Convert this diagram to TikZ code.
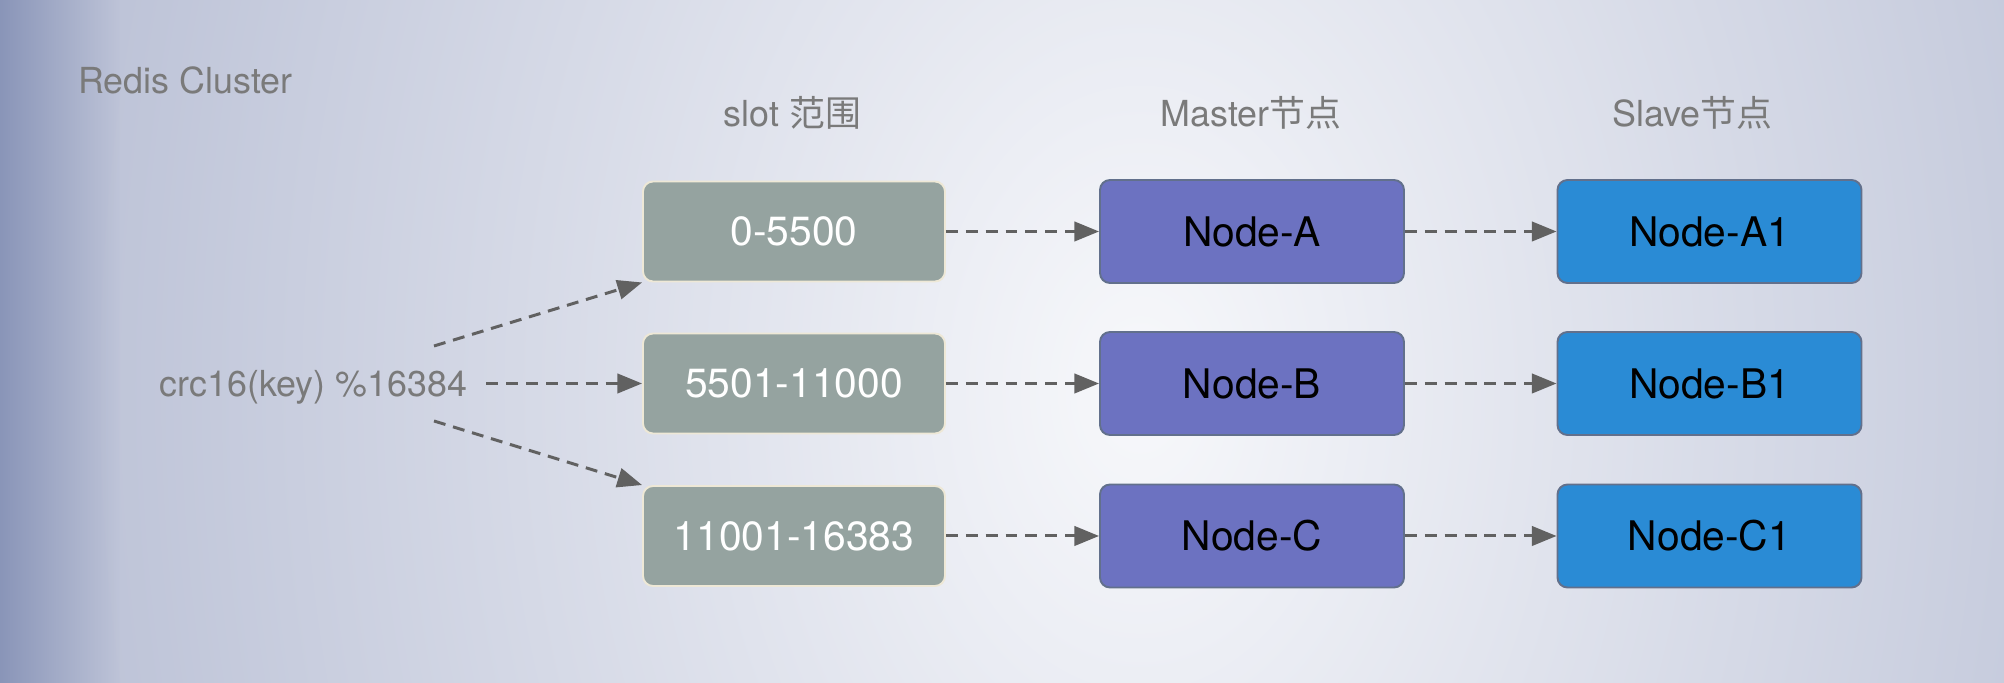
\documentclass[tikz,border=0pt]{standalone}
\usepackage{fontspec}
\setmainfont{TeX Gyre Heros}
\newfontfamily\cjk{Noto Sans CJK SC}
\usetikzlibrary{arrows.meta,fadings}

\definecolor{bgin}{HTML}{F7F8FB}
\definecolor{bgout}{HTML}{BEC4D8}
\definecolor{edgeblue}{HTML}{5E6E9E}
\definecolor{slotfill}{HTML}{95A3A0}
\definecolor{slotline}{HTML}{EEE8D6}
\definecolor{masterfill}{HTML}{6C72C1}
\definecolor{slavefill}{HTML}{2A8BD5}
\definecolor{boxline}{HTML}{62708C}
\definecolor{labelgray}{HTML}{7A7A7A}
\definecolor{arrowgray}{HTML}{616161}
\pgfdeclareradialshading{bgglow}{\pgfpointorigin}{color(0bp)=(bgin); color(12.5bp)=(bgout); color(50bp)=(bgout)}

\begin{document}
\begin{tikzpicture}[
        box/.style={draw,line width=1.1pt,rounded corners=0.2cm,minimum width=6.04cm,minimum height=2cm,font=\fontsize{23.2}{28}\selectfont},
        slotbox/.style={box,fill=slotfill,draw=slotline,text=white},
        masterbox/.style={box,fill=masterfill,draw=boxline,minimum width=6.08cm,minimum height=2.06cm,text=black},
        slavebox/.style={masterbox,fill=slavefill},
        title/.style={text=labelgray,inner sep=0pt,font=\fontsize{20.4}{24}\selectfont},
        link/.style={draw=arrowgray,line width=1.7pt,dash pattern=on 6.8pt off 4.5pt,-{Triangle[length=14pt,width=11pt]}}
    ]
            \useasboundingbox (0,0) rectangle (40.08,13.66);
            % background
            \begin{scope}
                \clip (0,0) rectangle (40.08,13.66);
                \shade[shading=bgglow] (22.8,5.9) ellipse (42 and 60);
                \fill[edgeblue,path fading=east] (-2,0) rectangle (2.4,13.66);
            \end{scope}

            \node[title,anchor=west] (Cluster) at (1.56,12.06) {Redis Cluster};
            \node[title,anchor=base] (Slot Title) at (15.85,11.13) {slot {\cjk 范围}};
            \node[title,anchor=base] (Master Title) at (25.02,11.13) {Master{\cjk 节点}};
            \node[title,anchor=base] (Slave Title) at (33.85,11.13) {Slave{\cjk 节点}};

            \node[title,anchor=base,inner xsep=0.38cm] (Hash) at (6.27,5.73) {crc16(key) \%16384};
            \coordinate (Hash Up) at (8.68,6.74);
            \coordinate (Hash Down) at (8.68,5.24);

            \node[slotbox] (Range A) at (15.88,9.03) {0-5500};
            \node[slotbox] (Range B) at (15.88,5.99) {5501-11000};
            \node[slotbox] (Range C) at (15.88,2.94) {11001-16383};

            \node[masterbox] (Master A) at (25.04,9.03) {Node-A};
            \node[masterbox] (Master B) at (25.04,5.99) {Node-B};
            \node[masterbox] (Master C) at (25.04,2.94) {Node-C};

            \node[slavebox] (Slave A) at (34.19,9.03) {Node-A1};
            \node[slavebox] (Slave B) at (34.19,5.99) {Node-B1};
            \node[slavebox] (Slave C) at (34.19,2.94) {Node-C1};

            \draw[link] (Hash Up) to (Range A.south west);
            \draw[link] (Hash.east |- Range B.west) to (Range B.west);
            \draw[link] (Hash Down) to (Range C.north west);

            \draw[link] (Range A) to (Master A);
            \draw[link] (Range B) to (Master B);
            \draw[link] (Range C) to (Master C);
            \draw[link] (Master A) to (Slave A);
            \draw[link] (Master B) to (Slave B);
            \draw[link] (Master C) to (Slave C);
        \end{tikzpicture}
\end{document}
